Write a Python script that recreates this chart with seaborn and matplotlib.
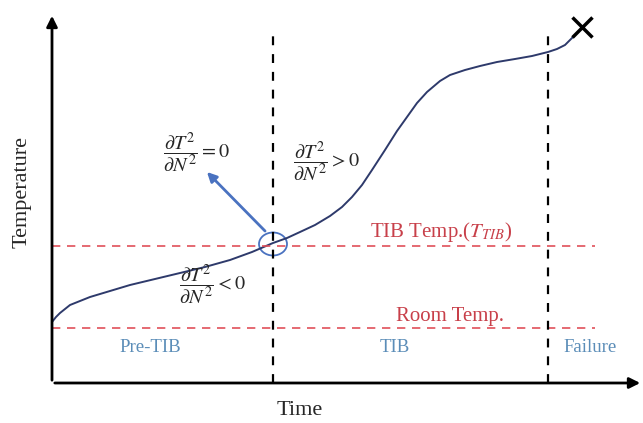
import matplotlib
matplotlib.use('Agg')
import matplotlib.pyplot as plt
from matplotlib.patches import Ellipse
import seaborn as sns
import pandas as pd

# schematic curve (arbitrary units)
time_pts = [0, 4, 8, 13, 18, 28, 38, 58, 78, 103, 128, 153, 178, 200, 221,
            235, 248, 263, 278, 290, 300, 310, 320, 333, 345, 355, 365, 375,
            388, 398, 413, 428, 445, 463, 480, 496, 505, 513, 521]
temp_pts = [61, 66, 70, 74, 78, 82, 86, 92, 98, 104, 110, 116, 123, 131, 140,
            145, 151, 158, 167, 176, 186, 198, 213, 233, 252, 266, 280, 291,
            302, 308, 313, 317, 321, 324, 327, 331, 334, 338, 346]

tib_temp = 137
room_temp = 55
stage_bounds = [221, 496]
stage_names = ['Pre-TIB', 'TIB', 'Failure']
stage_label_x = [98, 343, 538]
failure_pt = (530, 356)
inflection_pt = (221, 139)

sns.set_theme(style='white')
plt.rcParams['font.family'] = ['Liberation Serif', 'DejaVu Serif']
plt.rcParams['mathtext.fontset'] = 'stix'

fig = plt.figure(figsize=(6.43, 4.23), dpi=100)
ax = fig.add_axes([52 / 643, 40 / 423, 591 / 643, 370 / 423])
ax.set_xlim(0, 591)
ax.set_ylim(0, 370)
ax.axis('off')

df = pd.DataFrame({'time': time_pts, 'temp': temp_pts})
sns.lineplot(data=df, x='time', y='temp', ax=ax, color='#2E3A6B', lw=1.4)

# axes with arrows
ax.annotate('', xy=(591, 0), xytext=(0, 0), annotation_clip=False,
            arrowprops=dict(arrowstyle='-|>', lw=2, color='black', mutation_scale=16))
ax.annotate('', xy=(0, 370), xytext=(0, 0), annotation_clip=False,
            arrowprops=dict(arrowstyle='-|>', lw=2, color='black', mutation_scale=16))

# reference temperature lines
red = '#E0505A'
ax.plot([0, 543], [tib_temp, tib_temp], color=red, lw=1.2, dashes=(5, 4))
ax.plot([0, 543], [room_temp, room_temp], color=red, lw=1.2, dashes=(5, 4))

# stage boundaries
for b in stage_bounds:
    ax.plot([b, b], [0, 348], color='black', lw=1.6, dashes=(4, 4))

# failure mark
ax.plot(*failure_pt, marker='x', ms=15, mew=2.5, color='black')

# inflection point
blue = '#4A72C0'
ax.add_patch(Ellipse(inflection_pt, 28, 23, fill=False, ec=blue, lw=1.3))
ax.annotate('', xy=(153, 213), xytext=(215, 150),
            arrowprops=dict(arrowstyle='-|>', lw=2, color=blue, mutation_scale=14))

frac = r'\dfrac{\partial T^2}{\partial N^2}'
ax.text(144, 230, '$' + frac + ' = 0$', fontsize=14.5, ha='center', va='center')
ax.text(274, 221, '$' + frac + ' > 0$', fontsize=14.5, ha='center', va='center')
ax.text(160, 98, '$' + frac + ' < 0$', fontsize=14.5, ha='center', va='center')

ax.text(389, 151, r'TIB Temp.($T_{TIB}$)', fontsize=15, color='#C8404A',
        ha='center', va='center')
ax.text(398, 67, 'Room Temp.', fontsize=15, color='#C8404A',
        ha='center', va='center')

for name, x in zip(stage_names, stage_label_x):
    ax.text(x, 36, name, fontsize=13.5, color='#5B8DB8', ha='center', va='center')

fig.text(300 / 643, 1 - 410 / 423, 'Time', fontsize=16, ha='center', va='center')
fig.text(22 / 643, 1 - 192 / 423, 'Temperature', fontsize=16, ha='center',
         va='center', rotation=90)

fig.savefig('out.png', dpi=100)
